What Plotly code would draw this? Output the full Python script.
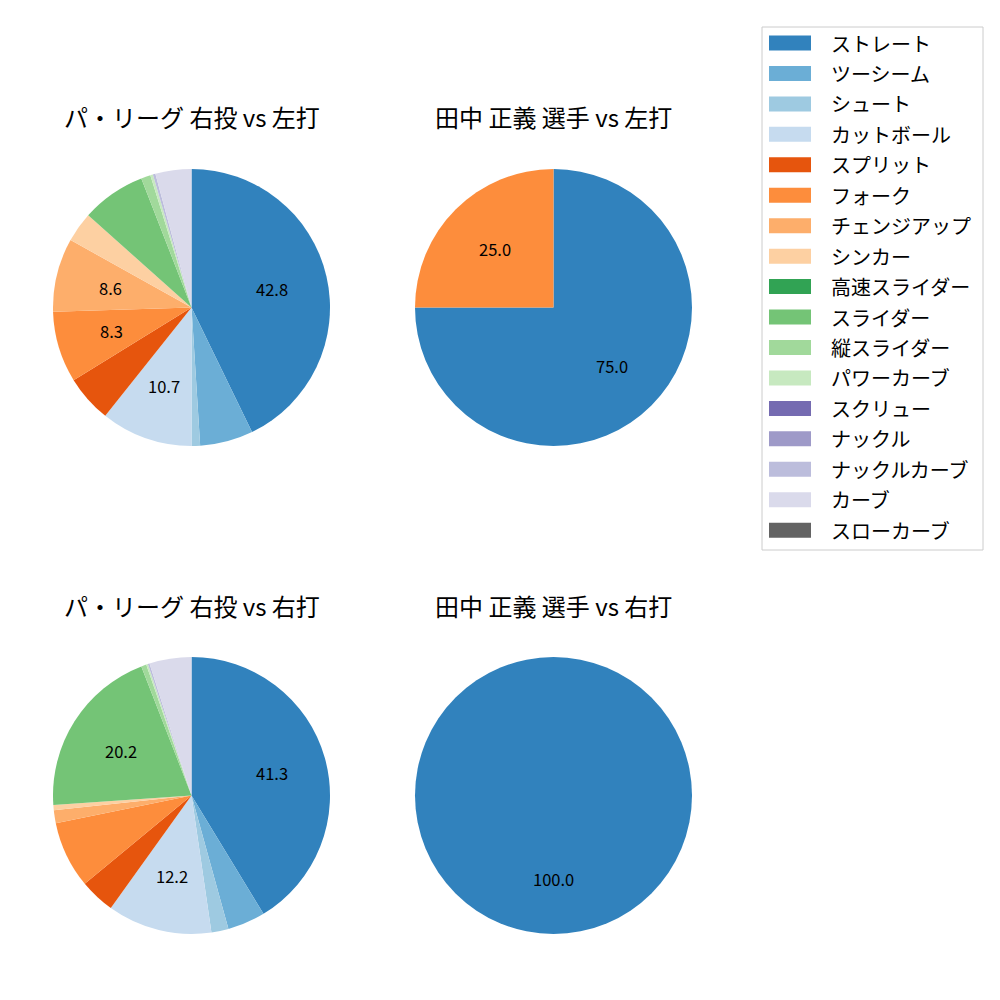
import math
import plotly.graph_objects as go

pitch_types = ["ストレート", "ツーシーム", "シュート", "カットボール", "スプリット", "フォーク",
               "チェンジアップ", "シンカー", "高速スライダー", "スライダー", "縦スライダー",
               "パワーカーブ", "スクリュー", "ナックル", "ナックルカーブ", "カーブ", "スローカーブ"]
colors = ["#3182bd", "#6baed6", "#9ecae1", "#c6dbef", "#e6550d", "#fd8d3c", "#fdae6b",
          "#fdd0a2", "#31a354", "#74c476", "#a1d99b", "#c7e9c0", "#756bb1", "#9e9ac8",
          "#bcbddc", "#dadaeb", "#636363"]

league_vs_left = [42.8, 6.2, 1.0, 10.7, 5.5, 8.3, 8.6, 3.5, 0, 7.5, 1.1, 0.3, 0, 0, 0.3, 4.2, 0]
pitcher_vs_left = [75.0, 0, 0, 0, 0, 25.0, 0, 0, 0, 0, 0, 0, 0, 0, 0, 0, 0]
league_vs_right = [41.3, 4.4, 2.0, 12.2, 4.1, 7.8, 1.5, 0.6, 0, 20.2, 0.6, 0.2, 0, 0, 0.2, 4.9, 0]
pitcher_vs_right = [100.0, 0, 0, 0, 0, 0, 0, 0, 0, 0, 0, 0, 0, 0, 0, 0, 0]

titles = ["パ・リーグ 右投 vs 左打", "田中 正義 選手 vs 左打", "パ・リーグ 右投 vs 右打", "田中 正義 選手 vs 右打"]
series = [league_vs_left, pitcher_vs_left, league_vs_right, pitcher_vs_right]

FONT = "Noto Sans CJK JP"
W = H = 1000
OFF = 8  # page body margin
# pie boxes in target pixels (x0, y0, size)
boxes = [(53, 169, 277), (415, 169, 277), (53, 657, 277), (415, 657, 277)]
THRESH = 8.0


def px2x(x):
    return (x - OFF) / W


def px2y(y):
    return 1 - (y - OFF) / H


fig = go.Figure()
annotations = []
shapes = []
for i, (vals, title, (bx, by, bs)) in enumerate(zip(series, titles, boxes)):
    fig.add_trace(go.Pie(
        labels=pitch_types, values=vals, sort=False, direction="clockwise", rotation=0,
        marker=dict(colors=colors, line=dict(width=0)), textinfo="none",
        hoverinfo="label+percent", showlegend=False,
        domain=dict(x=[px2x(bx), px2x(bx + bs)], y=[px2y(by + bs), px2y(by)]),
    ))
    total = sum(vals)
    cx, cy, r = bx + bs / 2, by + bs / 2, bs / 2
    cum = 0.0
    for v in vals:
        if v <= 0:
            continue
        pct = 100.0 * v / total
        mid = (cum + v / 2) / total * 2 * math.pi
        cum += v
        if pct >= THRESH:
            lx = cx + 0.6 * r * math.sin(mid)
            ly = cy - 0.6 * r * math.cos(mid)
            annotations.append(dict(x=px2x(lx), y=px2y(ly), xref="paper", yref="paper",
                                    text=f"{pct:.1f}", showarrow=False,
                                    xanchor="center", yanchor="middle",
                                    font=dict(size=16.5, color="black", family=FONT)))
    annotations.append(dict(x=px2x(cx), y=px2y(by - 52), xref="paper", yref="paper",
                            text=title, showarrow=False, xanchor="center", yanchor="middle",
                            font=dict(size=24, color="black", family=FONT)))

# legend (drawn manually to match wide colour patches)
LX0, LY0, LX1, LY1 = 762, 27, 983, 550
shapes.append(dict(type="rect", xref="paper", yref="paper",
                   x0=px2x(LX0), x1=px2x(LX1), y0=px2y(LY1), y1=px2y(LY0),
                   line=dict(color="#cccccc", width=1), fillcolor="rgba(255,255,255,0.8)"))
first_y, step = 43, 30.45
for k, (name, col) in enumerate(zip(pitch_types, colors)):
    yc = first_y + k * step
    shapes.append(dict(type="rect", xref="paper", yref="paper",
                       x0=px2x(769), x1=px2x(811), y0=px2y(yc + 7.5), y1=px2y(yc - 7.5),
                       line=dict(width=0), fillcolor=col))
    annotations.append(dict(x=px2x(829), y=px2y(yc), xref="paper", yref="paper",
                            text=name, showarrow=False, xanchor="left", yanchor="middle",
                            font=dict(size=20, color="black", family=FONT)))

fig.update_layout(
    width=W, height=H, margin=dict(l=0, r=0, t=0, b=0),
    paper_bgcolor="white", plot_bgcolor="white",
    font=dict(family=FONT, color="black"),
    annotations=annotations, shapes=shapes, showlegend=False,
)
fig.write_html("out.html")
